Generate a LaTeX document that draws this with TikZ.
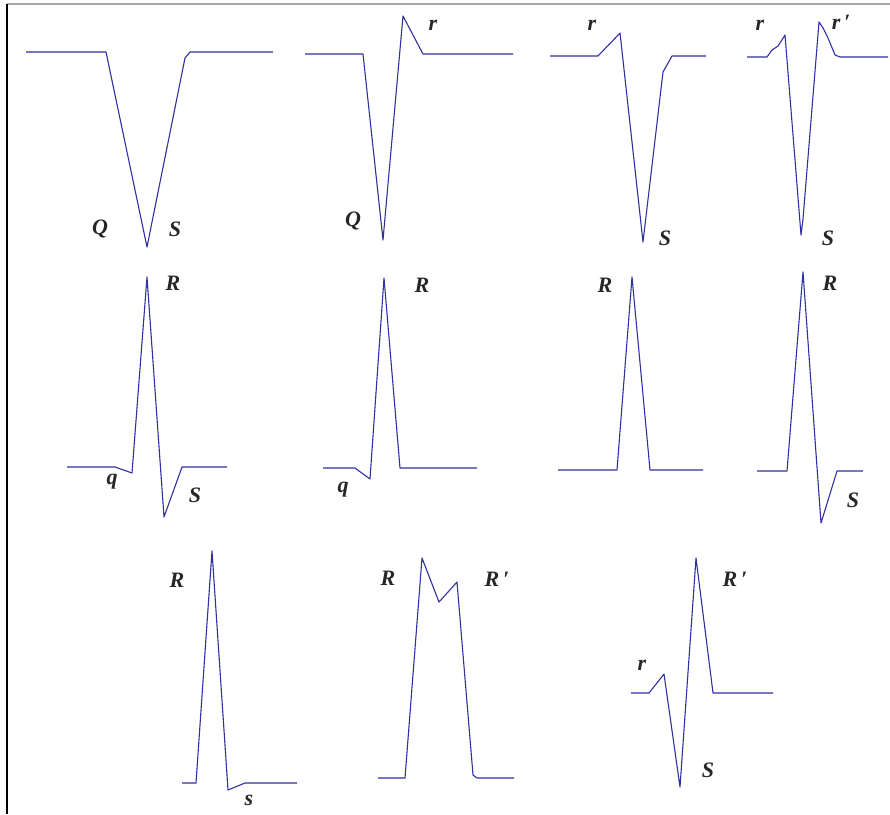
\documentclass[tikz,border=0pt]{standalone}
\usepackage{fontspec}
\setmainfont{Liberation Serif}
\definecolor{ecg}{RGB}{48,48,160}
\tikzset{
  wave/.style={draw=ecg, line width=1.1pt, line join=round},
  lab/.style={font=\bfseries\itshape\fontsize{22}{22}\selectfont, inner sep=0pt, text=black!85},
}
\begin{document}
\begin{tikzpicture}[x=1pt,y=-1pt]
\useasboundingbox (0,0) rectangle (890,814);
% frame
\draw[gray!70, line width=1.6pt] (7,4) -- (890,4);
\draw[black, line width=1.6pt] (7,4) -- (7,814);
% Row 1
\draw[wave] (26,52) -- (106,52) -- (147,247) -- (185,58) -- (190,52) -- (273,52);
\node[lab] (q1) at (100,229) {Q};
\node[lab] (s1) at (175,229) {S};

\draw[wave] (305,54) -- (363,54) -- (383,240) -- (403,16) -- (423,54) -- (513,54);
\node[lab] (r2) at (433,25) {r};
\node[lab] (q2) at (353,221) {Q};

\draw[wave] (550,56) -- (598,56) -- (620,33) -- (643,242) -- (663,72) -- (672,56) -- (706,56);
\node[lab] (r3) at (592,25) {r};
\node[lab] (s3) at (665,238) {S};

\draw[wave] (747,57) -- (767,57) -- (772,50) -- (778,46) -- (785,35) -- (801,235) -- (803,219) -- (819,22) -- (823,28) -- (828,38) -- (835,55) -- (840,57) -- (888,57);
\node[lab] (r4) at (760,25) {r};
\node[lab] (rp4) at (841,22) {r\,′};
\node[lab] (s4) at (828,238) {S};

% Row 2
\draw[wave] (67,467) -- (115,467) -- (132,473) -- (147,277) -- (164,517) -- (182,467) -- (227,467);
\node[lab] (R5) at (173,283) {R};
\node[lab] (q5) at (112,482) {q};
\node[lab] (s5) at (195,495) {S};

\draw[wave] (323,468) -- (355,468) -- (370,479) -- (384,278) -- (400,468) -- (477,468);
\node[lab] (R6) at (422,285) {R};
\node[lab] (q6) at (343,490) {q};

\draw[wave] (558,470) -- (617,470) -- (632,277) -- (650,470) -- (703,470);
\node[lab] (R7) at (605,285) {R};

\draw[wave] (757,471) -- (787,471) -- (803,272) -- (821,523) -- (837,471) -- (863,471);
\node[lab] (R8) at (830,283) {R};
\node[lab] (s8) at (853,500) {S};

% Row 3
\draw[wave] (182,783) -- (196,783) -- (212,551) -- (228,790) -- (245,783) -- (297,783);
\node[lab] (R9) at (177,580) {R};
\node[lab] (s9) at (249,800) {s};

\draw[wave] (378,778) -- (405,778) -- (422,558) -- (439,602) -- (457,582) -- (473,775) -- (477,778) -- (514,778);
\node[lab] (R10) at (388,578) {R};
\node[lab] (Rp10) at (497,579) {R\,′};

\draw[wave] (631,693) -- (649,693) -- (664,674) -- (680,787) -- (696,558) -- (713,693) -- (773,693);
\node[lab] (r11) at (642,665) {r};
\node[lab] (Rp11) at (735,579) {R\,′};
\node[lab] (s11) at (708,770) {S};
\end{tikzpicture}
\end{document}
